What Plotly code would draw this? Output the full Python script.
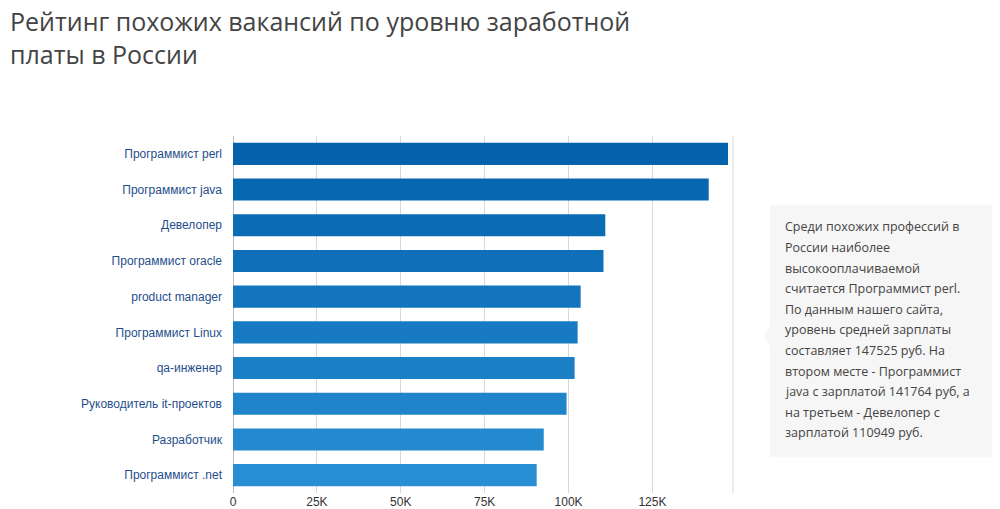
import plotly.graph_objects as go

jobs = ["Программист perl", "Программист java", "Девелопер", "Программист oracle",
        "product manager", "Программист Linux", "qa-инженер",
        "Руководитель it-проектов", "Разработчик", "Программист .net"]
salaries = [147525, 141764, 110949, 110400, 103600, 102700, 101800, 99400, 92600, 90500]
colors = ["#0462ab", "#0767b0", "#0b6cb5", "#0f70b9", "#1375bd",
          "#177ac2", "#1b7fc6", "#1f84ca", "#2489cf", "#298fd4"]

tick_vals = [0, 25000, 50000, 75000, 100000, 125000]
tick_text = ["0", "25K", "50K", "75K", "100K", "125K"]

note_lines = ["Среди похожих профессий в", "России наиболее", "высокооплачиваемой",
              "считается Программист perl.", "По данным нашего сайта,",
              "уровень средней зарплаты", "составляет 147525 руб. На",
              "втором месте - Программист", "java с зарплатой 141764 руб, а",
              "на третьем - Девелопер с", "зарплатой 110949 руб."]

fig = go.Figure(go.Bar(
    x=salaries, y=jobs, orientation="h",
    marker=dict(color=colors, line=dict(width=0)),
    width=0.62,
))

fig.update_layout(
    width=1000, height=509,
    paper_bgcolor="white", plot_bgcolor="white",
    margin=dict(l=225, r=275, t=128, b=24, autoexpand=False),
    font=dict(family="Open Sans, DejaVu Sans, sans-serif"),
    showlegend=False,
    xaxis=dict(range=[0, 149000], tickvals=tick_vals, ticktext=tick_text,
               showgrid=True, gridcolor="#d8d8d8", zeroline=True,
               zerolinecolor="#bbbbbb", zerolinewidth=1, automargin=False,
               tickfont=dict(size=12, color="#333333", family="Arial, Liberation Sans")),
    yaxis=dict(autorange="reversed", ticksuffix="   ", automargin=False,
               tickfont=dict(size=12, color="#1f4e8c", family="Arial, Liberation Sans")),
)

fig.add_annotation(xref="paper", yref="paper", x=-0.45, y=1.375,
                   xanchor="left", yanchor="top", align="left", showarrow=False,
                   text="Рейтинг похожих вакансий по уровню заработной<br>платы в России",
                   font=dict(size=25, color="#444444"))

fig.add_shape(type="line", xref="paper", yref="paper", x0=1, x1=1, y0=0, y1=1,
              line=dict(color="#d8d8d8", width=1))

# side info box
fig.add_shape(type="rect", xref="paper", yref="paper",
              x0=1.074, x1=1.52, y0=0.1, y1=0.805,
              fillcolor="#f6f6f6", line=dict(width=0))
fig.add_shape(type="path", xref="paper", yref="paper",
              path="M 1.074 0.47 L 1.062 0.44 L 1.074 0.41 Z",
              fillcolor="#f6f6f6", line=dict(width=0))
for i, line in enumerate(note_lines):
    fig.add_annotation(xref="paper", yref="paper", x=1.1, y=0.775 - i * 0.0577,
                       xanchor="left", yanchor="top", align="left",
                       text=line, showarrow=False,
                       font=dict(size=12.5, color="#444444"))

fig.write_html("out.html")
